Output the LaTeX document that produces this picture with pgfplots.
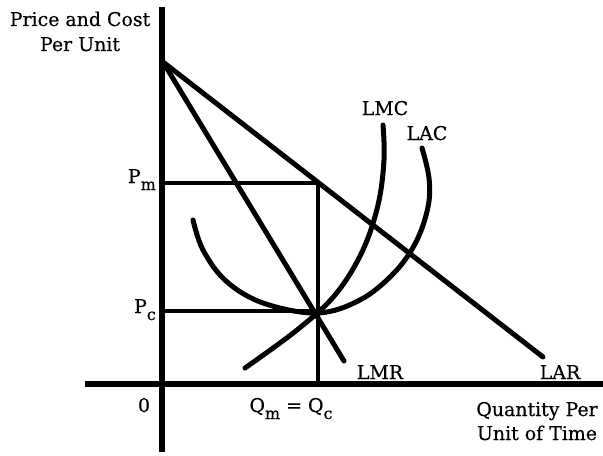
\documentclass[border=0pt]{standalone}
\usepackage{pgfplots}
\pgfplotsset{compat=1.18}
\usepackage{fontspec}
\setmainfont{DejaVu Serif}[FakeBold=0.5]
\newcommand{\sub}[1]{\raisebox{-7bp}{\fontsize{16}{16}\selectfont #1}}
\begin{document}
\fontsize{19}{22}\selectfont
\begin{tikzpicture}
\begin{axis}[width=603bp,height=456bp,scale only axis,
  xmin=0,xmax=603,ymin=0,ymax=456,y dir=reverse,
  axis lines=none,clip=false,cycle list={{black}},
  every axis plot/.append style={black,line width=5bp,line cap=round,line join=round,no marks}]
% axes
\addplot[black,line width=5.5bp,line cap=butt] coordinates {(162,7) (162,452)};
\addplot[black,line width=5.5bp,line cap=butt] coordinates {(85,384) (603,384)};
% LAR
\addplot[black] coordinates {(163,62) (543,357)};
% LMR
\addplot[black] coordinates {(163,62) (344,361)};
% Pm, Qm, Pc
\addplot[black,line width=4.5bp,line join=miter,line cap=butt] coordinates {(162,183) (318,183) (318,384)};
\addplot[black,line width=4.5bp,line cap=butt] coordinates {(162,311) (318,311)};
% LAC
\addplot[black,smooth,tension=0.6] coordinates {(193,220) (203,250) (226,281) (263,303) (317,313) (360,300) (394,273) (416,242) (428,207) (429,178) (422,148)};
% LMC
\addplot[black,smooth,tension=0.6] coordinates {(245,368) (297,330) (335,295) (362,252) (378,205) (384,160) (383,125)};
% labels
\node[anchor=base] at (axis cs:80,26) {Price and Cost};
\node[anchor=base] at (axis cs:80,51) {Per Unit};
\node[anchor=base] at (axis cs:537,416) {Quantity Per};
\node[anchor=base] at (axis cs:537,440) {Unit of Time};
\node[anchor=base] at (axis cs:560,379) {LAR};
\node[anchor=base] at (axis cs:380,379) {LMR};
\node[anchor=base] at (axis cs:385,115) {LMC};
\node[anchor=base] at (axis cs:427,140) {LAC};
\node[anchor=base] at (axis cs:144,412) {0};
\node[anchor=base] at (axis cs:291,412) {Q\sub{m} = Q\sub{c}};
\node[anchor=base east,inner sep=0pt] at (axis cs:156,183) {P\sub{m}};
\node[anchor=base east,inner sep=0pt] at (axis cs:156,313) {P\sub{c}};
\end{axis}
\pgfresetboundingbox
\path[use as bounding box] (current axis.south west) rectangle (current axis.north east);
\end{tikzpicture}
\end{document}
